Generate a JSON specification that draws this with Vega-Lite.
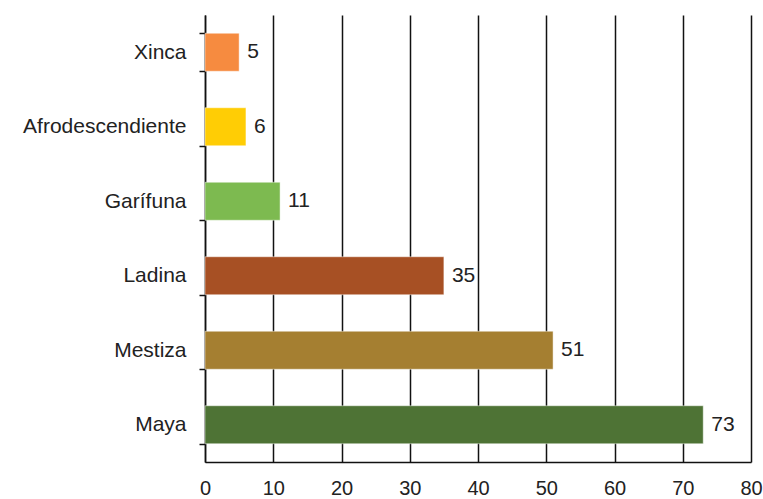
{
  "$schema": "https://vega.github.io/schema/vega-lite/v6.json",
  "width": 546,
  "height": 447,
  "autosize": {"type": "none"},
  "padding": {"left": 205, "top": 15, "right": 12, "bottom": 37},
  "background": "white",
  "config": {
    "view": {"stroke": null},
    "font": "Liberation Sans"
  },
  "data": {
    "values": [
      {"grupo": "Xinca", "valor": 5, "color": "#F68B40"},
      {"grupo": "Afrodescendiente", "valor": 6, "color": "#FFCD05"},
      {"grupo": "Garífuna", "valor": 11, "color": "#7DBA50"},
      {"grupo": "Ladina", "valor": 35, "color": "#A75024"},
      {"grupo": "Mestiza", "valor": 51, "color": "#A57F31"},
      {"grupo": "Maya", "valor": 73, "color": "#4E7335"}
    ]
  },
  "encoding": {
    "y": {
      "field": "grupo",
      "type": "nominal",
      "sort": {"field": "valor", "order": "ascending"},
      "scale": {"paddingInner": 0.49, "paddingOuter": 0.245},
      "axis": {
        "title": null,
        "domainColor": "#111",
        "domainWidth": 1.5,
        "tickBand": "extent",
        "tickColor": "#111",
        "tickWidth": 1.5,
        "tickSize": 6,
        "labelPadding": 13,
        "labelFontSize": 21,
        "labelColor": "#222",
        "labelFont": "Liberation Sans",
        "labelLimit": 300,
        "grid": false
      }
    },
    "x": {
      "field": "valor",
      "type": "quantitative",
      "scale": {"domain": [0, 80], "nice": false},
      "axis": {
        "title": null,
        "values": [0, 10, 20, 30, 40, 50, 60, 70, 80],
        "grid": true,
        "gridColor": "#111",
        "gridWidth": 1.5,
        "gridOpacity": 1,
        "domainColor": "#111",
        "domainWidth": 1.5,
        "ticks": false,
        "labelPadding": 16,
        "labelFontSize": 20,
        "labelColor": "#222",
        "labelFont": "Liberation Sans",
        "labelFlush": false
      }
    }
  },
  "layer": [
    {
      "mark": {"type": "bar", "stroke": "#ffffff", "strokeOpacity": 0.45, "strokeWidth": 1},
      "encoding": {
        "color": {"field": "color", "type": "nominal", "scale": null, "legend": null}
      }
    },
    {
      "mark": {"type": "text", "align": "left", "dx": 8, "fontSize": 21, "color": "#222", "font": "Liberation Sans"},
      "encoding": {
        "text": {"field": "valor", "type": "quantitative"}
      }
    }
  ]
}
